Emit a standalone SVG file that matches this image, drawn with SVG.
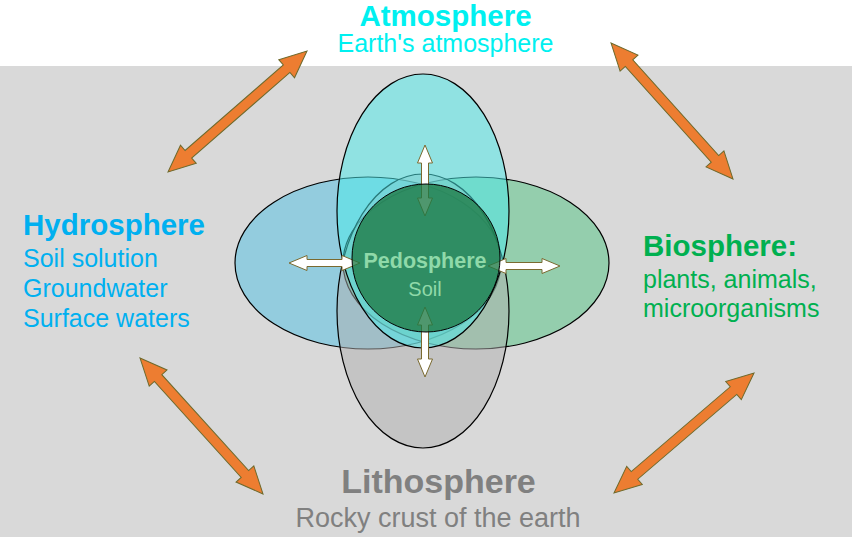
<svg xmlns="http://www.w3.org/2000/svg" width="852" height="537" viewBox="0 0 852 537">
<style>
text{font-family:"Liberation Sans",Arial,sans-serif}
.t{font-weight:bold;font-size:29.5px}
.s{font-size:25px}
.ell{stroke:#000;stroke-width:1.2}
.oa{fill:#ED7D31;stroke:#6E6A2C;stroke-width:1}
.wa{fill:#FFFFFF;stroke:#7A6A30;stroke-width:1}
</style>
<rect x="0" y="0" width="852" height="537" fill="#FFFFFF"/>
<rect x="0" y="66" width="852" height="471" fill="#D9D9D9"/>

<g id="hydrosphere-ellipse"><ellipse class="ell" cx="368" cy="263" rx="133" ry="86" fill="#4DBFE3" fill-opacity="0.5"/></g>
<g id="biosphere-ellipse"><ellipse class="ell" cx="476" cy="263" rx="133" ry="86" fill="#40C078" fill-opacity="0.45"/></g>
<g id="lithosphere-ellipse"><ellipse class="ell" cx="423" cy="311" rx="86" ry="137" fill="#B0B0B0" fill-opacity="0.5"/></g>
<g id="atmosphere-ellipse"><ellipse class="ell" cx="423" cy="211" rx="86" ry="137" fill="#4CEAEA" fill-opacity="0.52"/></g>

<g id="connectors">
<path class="wa" d="M425,145 L432.5,163 L428.5,163 L428.5,198 L432.5,198 L425,216 L417.5,198 L421.5,198 L421.5,163 L417.5,163 Z"/>
<path class="wa" d="M425,307 L432.5,325 L428.5,325 L428.5,359 L432.5,359 L425,377 L417.5,359 L421.5,359 L421.5,325 L417.5,325 Z"/>
<path class="wa" d="M289,263 L307,255.5 L307,259.5 L342,259.5 L342,255.5 L360,263 L342,270.5 L342,266.5 L307,266.5 L307,270.5 Z"/>
<path class="wa" d="M488,266 L506,258.5 L506,262.5 L542,262.5 L542,258.5 L560,266 L542,273.5 L542,269.5 L506,269.5 L506,273.5 Z"/>
<path class="oa" transform="translate(168,172) rotate(-41.04)" d="M0,0 L27,-12 L27,-5 L157.3,-5 L157.3,-12 L184.3,0 L157.3,12 L157.3,5 L27,5 L27,12 Z"/>
<path class="oa" transform="translate(611,43) rotate(48.1)" d="M0,0 L27,-12 L27,-5 L155.7,-5 L155.7,-12 L182.7,0 L155.7,12 L155.7,5 L27,5 L27,12 Z"/>
<path class="oa" transform="translate(140,358) rotate(47.87)" d="M0,0 L27,-12 L27,-5 L156.4,-5 L156.4,-12 L183.4,0 L156.4,12 L156.4,5 L27,5 L27,12 Z"/>
<path class="oa" transform="translate(614,493) rotate(-40.6)" d="M0,0 L27,-12 L27,-5 L157.4,-5 L157.4,-12 L184.4,0 L157.4,12 L157.4,5 L27,5 L27,12 Z"/>
</g>

<g id="pedosphere">
<circle cx="426" cy="258" r="74" fill="#1E7A45" fill-opacity="0.78" stroke="#000" stroke-width="1"/>
<text x="425" y="268" text-anchor="middle" font-weight="bold" font-size="21.5" fill="#8FD9A9">Pedosphere</text>
<text x="425" y="296" text-anchor="middle" font-size="20" fill="#8FD9A9">Soil</text>
</g>

<g id="atmosphere">
<text class="t" x="445.5" y="26" text-anchor="middle" fill="#00F0F0">Atmosphere</text>
<text class="s" x="445.5" y="52" text-anchor="middle" fill="#00F0F0">Earth's atmosphere</text>
</g>
<g id="hydrosphere" fill="#00B0F0">
<text class="t" x="23" y="235">Hydrosphere</text>
<text class="s" x="23" y="267">Soil solution</text>
<text class="s" x="23" y="297">Groundwater</text>
<text class="s" x="23" y="327">Surface waters</text>
</g>
<g id="biosphere" fill="#00B050">
<text class="t" x="643" y="256">Biosphere:</text>
<text class="s" x="643" y="288">plants, animals,</text>
<text class="s" x="643" y="317">microorganisms</text>
</g>
<g id="lithosphere" fill="#808080">
<text x="438.5" y="493" text-anchor="middle" font-weight="bold" font-size="34">Lithosphere</text>
<text x="438" y="527" text-anchor="middle" font-size="27">Rocky crust of the earth</text>
</g>
</svg>
